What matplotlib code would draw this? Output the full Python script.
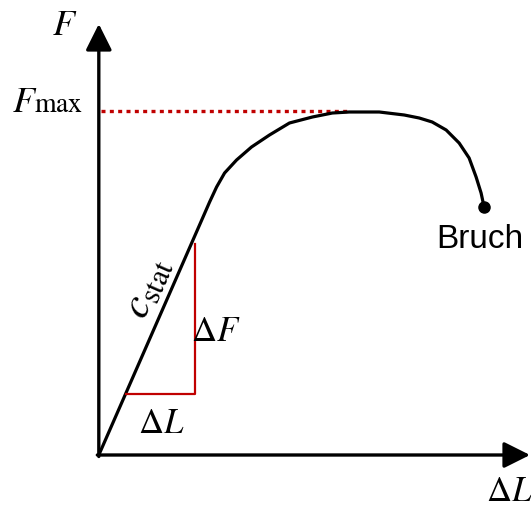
import matplotlib
matplotlib.use('Agg')
from matplotlib import pyplot as plt

plt.rcParams['mathtext.fontset'] = 'stix'

# ----- force / elongation curve (schematic units) -----
dL = [0, 104, 111, 118, 126, 138, 153, 171, 191, 214, 234, 251, 281, 306, 321, 334, 348,
      361, 371, 378, 383, 386]
F = [0, 237, 253, 268, 282, 295, 308, 320, 332, 338, 342, 343, 343, 340, 337, 333, 325,
     312, 297, 278, 262, 248]
F_max = 344
dL_at_Fmax = 252

# stiffness triangle on the linear part
tri_dL = [27, 96]
tri_F = [61, 211]

fig = plt.figure(figsize=(5.31, 5.07), dpi=100)
ax = fig.add_axes([0, 0, 1, 1])
ax.set_xlim(-99, 433)
ax.set_ylim(-52, 455)
ax.axis('off')

# axes with arrow heads
arrow = dict(arrowstyle='-|>,head_length=1.0,head_width=0.5', lw=2.4, color='black',
             mutation_scale=16, shrinkA=0, shrinkB=0)
ax.annotate('', xy=(0, 431), xytext=(0, -1.5), arrowprops=arrow)
ax.annotate('', xy=(432, 0), xytext=(-1.5, 0), arrowprops=arrow)

# F_max level
ax.plot([2, dL_at_Fmax], [F_max, F_max], color='#c00000', lw=2.4, linestyle=(0, (1.2, 1.3)))

# curve and break point
ax.plot(dL, F, color='black', lw=2.3, solid_capstyle='round', solid_joinstyle='round')
ax.plot(dL[-1], F[-1], 'o', color='black', markersize=8)

# triangle dL / dF
x0, x1 = tri_dL
y0, y1 = tri_F
ax.plot([x0, x1, x1], [y0, y0, y1], color='#c00000', lw=1.6)

ax.text(-34, 430, '$F$', fontsize=26, ha='center', va='center')
ax.text(-62, 343, '$F$', fontsize=26, ha='right', va='baseline')
ax.text(-65, 343, r'$\mathrm{max}$', fontsize=20, ha='left', va='baseline')
ax.text(117, 124, r'$\Delta F$', fontsize=25, ha='center', va='center')
ax.text(63, 32, r'$\Delta L$', fontsize=25, ha='center', va='center')
ax.text(411, -36, r'$\Delta L$', fontsize=25, ha='center', va='center')
ax.text(48, 168, r'$c_{\mathrm{stat}}$', fontsize=31, ha='center', va='center', rotation=66)
ax.text(338, 207, 'Bruch', fontsize=24, family='Liberation Sans', ha='left', va='baseline')

fig.savefig('out.png', dpi=100)
